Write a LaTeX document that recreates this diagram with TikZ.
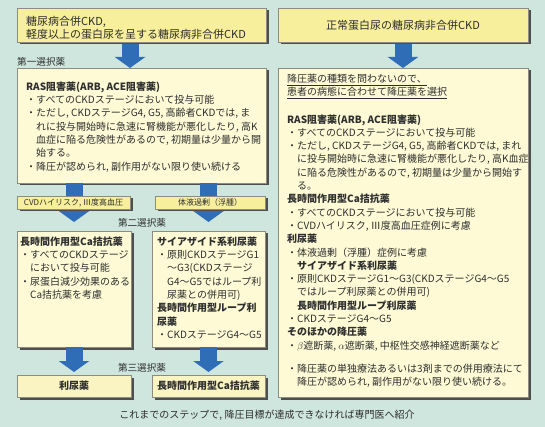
\documentclass[tikz,border=0pt]{standalone}
\usepackage{fontspec}
\setmainfont{Noto Sans CJK JP}
\usetikzlibrary{arrows.meta,shadows}
\definecolor{bgmint}{HTML}{CEE6DE}
\definecolor{titley}{HTML}{F7EF9C}
\definecolor{creamy}{HTML}{FDFAD5}
\definecolor{boty}{HTML}{FAF4C2}
\definecolor{edgeg}{HTML}{8C8C80}
\definecolor{arrowb}{HTML}{2F6DB7}
\definecolor{shadowg}{HTML}{4E4E4E}
\definecolor{textc}{HTML}{2E2E2E}
\begin{document}
\begin{tikzpicture}[x=1pt,y=-1pt,
  boxbase/.style={draw=edgeg, line width=0.5pt, inner sep=0pt, outer sep=0pt,
    drop shadow={shadow xshift=2.5pt, shadow yshift=-2.5pt, fill=shadowg, opacity=1}},
  titlebox/.style={boxbase, fill=titley},
  contentbox/.style={boxbase, fill=creamy},
  bottombox/.style={boxbase, fill=boty},
  labelbox/.style={boxbase, fill=titley, font=\fontsize{8}{9}\selectfont, text=textc},
  bodytext/.style={inner sep=0pt, anchor=north west, align=left, text=textc,
    font=\fontsize{10}{13.3}\selectfont},
  titletext/.style={inner sep=0pt, align=left, text=textc,
    font=\fontsize{11}{12.5}\selectfont},
  steplabel/.style={inner sep=0pt, text=textc, font=\fontsize{9.6}{11}\selectfont},
  bigarrow/.style={arrowb, line width=17pt, -{Triangle[width=30pt,length=11pt]}}
]
\fill[bgmint] (0,0) rectangle (545,427);
\useasboundingbox (0,0) rectangle (545,427);

% boxes
\node[titlebox, minimum width=249pt, minimum height=34pt] (t1) at (141.5,25) {};
\node[titlebox, minimum width=250pt, minimum height=34pt] (t2) at (403,25) {};
\node[contentbox, minimum width=249pt, minimum height=115pt] (b1) at (141.5,125.5) {};
\node[contentbox, minimum width=250pt, minimum height=329pt] (br) at (403,232.5) {};
\node[contentbox, minimum width=114pt, minimum height=116pt] (b2l) at (74,289) {};
\node[contentbox, minimum width=113pt, minimum height=116pt] (b2r) at (208.5,289) {};
\node[bottombox, minimum width=114pt, minimum height=22pt, font=\bfseries\fontsize{10}{12}\selectfont, text=textc] (b3l) at (74,386) {利尿薬};
\node[bottombox, minimum width=113pt, minimum height=22pt, font=\bfseries\fontsize{10}{12}\selectfont, text=textc] (b3r) at (208.5,386) {長時間作用型Ca拮抗薬};

% arrows
\draw[bigarrow, shorten <=2pt] ([xshift=-11.5pt]t1.south) -- ([xshift=-11.5pt]b1.north);
\draw[bigarrow, shorten <=2pt] (t2.south) -- (br.north);
\draw[bigarrow, shorten >=9pt] (b1.south -| b2l.north) -- (b2l.north);
\draw[bigarrow, shorten >=9pt] (b1.south -| b2r.north) -- (b2r.north);
\draw[bigarrow, shorten >=3pt] (b2l.south) -- (b3l.north);
\draw[bigarrow, shorten >=3pt] (b2r.south) -- (b3r.north);

% condition labels
\node[labelbox, minimum width=113pt, minimum height=13pt] (l1) at (73.5,202.5) {CVDハイリスク, Ⅲ度高血圧};
\node[labelbox, minimum width=110pt, minimum height=13pt] (l2) at (210,202.5) {体液過剰（浮腫）};

% step labels
\node[steplabel, anchor=west] (s1) at (17,61.5) {第一選択薬};
\node[steplabel] (s2) at (142,223) {第二選択薬};
\node[steplabel] (s3) at (142,368) {第三選択薬};

% titles
\node[titletext, anchor=north west] (t1txt) at (26,16.5) {糖尿病合併CKD,\\軽度以上の蛋白尿を呈する糖尿病非合併CKD};
\node[titletext] (t2txt) at (t2.center) {正常蛋白尿の糖尿病非合併CKD};

% left first-line box
\node[bodytext] (b1txt) at (26,81.5) {\textbf{RAS阻害薬(ARB, ACE阻害薬)}\\
・すべてのCKDステージにおいて投与可能\\
・ただし, CKDステージG4, G5, 高齢者CKDでは, ま\\
\hspace*{1em}れに投与開始時に急速に腎機能が悪化したり, 高K\\
\hspace*{1em}血症に陥る危険性があるので, 初期量は少量から開\\
\hspace*{1em}始する。\\
・降圧が認められ, 副作用がない限り使い続ける};

% second-line boxes
\node[bodytext] (b2ltxt) at (20,236.5) {\textbf{長時間作用型Ca拮抗薬}\\
・すべてのCKDステージ\\
\hspace*{1em}において投与可能\\
・尿蛋白減少効果のある\\
\hspace*{1em}Ca拮抗薬を考慮};

\node[bodytext] (b2rtxt) at (157,236.5) {\textbf{サイアザイド系利尿薬}\\
・原則CKDステージG1\\
\hspace*{1em}～G3(CKDステージ\\
\hspace*{1em}G4～G5ではループ利\\
\hspace*{1em}尿薬との併用可)\\
\textbf{長時間作用型ループ利}\\
\textbf{尿薬}\\
・CKDステージG4～G5};

% right box
\node[bodytext] (brtxt) at (287,74) {\underline{降圧薬の種類を問わないので、}\\
\underline{患者の病態に合わせて降圧薬を選択}\\[13.8pt]
\textbf{RAS阻害薬(ARB, ACE阻害薬)}\\
・すべてのCKDステージにおいて投与可能\\
・ただし, CKDステージG4, G5, 高齢者CKDでは, まれ\\
\hspace*{1em}に投与開始時に急速に腎機能が悪化したり, 高K血症\\
\hspace*{1em}に陥る危険性があるので, 初期量は少量から開始す\\
\hspace*{1em}る。\\
\textbf{長時間作用型Ca拮抗薬}\\
・すべてのCKDステージにおいて投与可能\\
・CVDハイリスク, Ⅲ度高血圧症例に考慮\\
\textbf{利尿薬}\\
・体液過剰（浮腫）症例に考慮\\
\hspace*{1em}\textbf{サイアザイド系利尿薬}\\
・原則CKDステージG1～G3(CKDステージG4～G5\\
\hspace*{1em}ではループ利尿薬との併用可)\\
\hspace*{1em}\textbf{長時間作用型ループ利尿薬}\\
・CKDステージG4～G5\\
\textbf{そのほかの降圧薬}\\
・$\beta$遮断薬, $\alpha$遮断薬, 中枢性交感神経遮断薬など\\[9.7pt]
・降圧薬の単独療法あるいは3剤までの併用療法にて\\
\hspace*{1em}降圧が認められ, 副作用がない限り使い続ける。};

% footer
\node[inner sep=0pt, text=textc, font=\fontsize{10}{12}\selectfont] (foot) at (267,415) {これまでのステップで, 降圧目標が達成できなければ専門医へ紹介};
\end{tikzpicture}
\end{document}
